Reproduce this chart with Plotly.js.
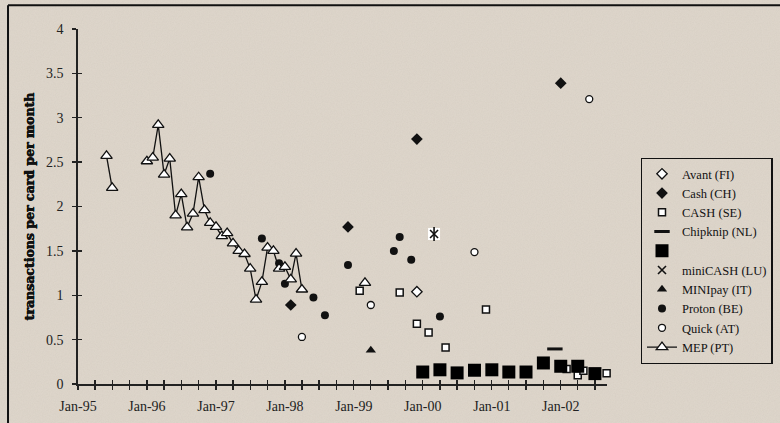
<!DOCTYPE html>
<html>
<head>
<meta charset="utf-8">
<script src="https://cdn.plot.ly/plotly-3.0.1.min.js"></script>
<style>
  html, body { margin:0; padding:0; }
  body {
    width:780px; height:423px; overflow:hidden;
    background-color:#ddd5ca;
    background-image:url("data:image/svg+xml;utf8,<svg xmlns='http://www.w3.org/2000/svg' width='260' height='260'><filter id='n'><feTurbulence type='fractalNoise' baseFrequency='0.85' numOctaves='2' stitchTiles='stitch'/><feColorMatrix type='matrix' values='0 0 0 0 0.55  0 0 0 0 0.5  0 0 0 0 0.44  0 0 0 0.9 -0.25'/></filter><rect width='100%' height='100%' filter='url(%23n)' opacity='0.35'/></svg>");
  }
  #chart { width:780px; height:423px; }
</style>
</head>
<body>
<div id="chart"></div>
<script>
// ---- data ----
const avantDates = ['1999-12-01'];
const avantVals  = [1.04];

const cashChDates = ['1998-02-01','1998-12-01','1999-12-01','2002-01-01'];
const cashChVals  = [0.89, 1.77, 2.76, 3.39];

const cashSeDates = ['1999-02-01','1999-09-01','1999-12-01','2000-02-01','2000-05-01','2000-12-01','2002-02-01','2002-04-01','2002-05-01','2002-09-01'];
const cashSeVals  = [1.05, 1.03, 0.68, 0.58, 0.41, 0.84, 0.17, 0.10, 0.15, 0.12];

const chipknipDates = ['2001-12-01'];
const chipknipVals  = [0.395];

const unnamedDates = ['2000-01-01','2000-04-01','2000-07-01','2000-10-01','2001-01-01','2001-04-01','2001-07-01','2001-10-01','2002-01-01','2002-04-01','2002-07-01'];
const unnamedVals  = [0.135, 0.16, 0.125, 0.155, 0.16, 0.135, 0.135, 0.237, 0.20, 0.20, 0.117];

const miniCashDates = ['2000-03-01'];
const miniCashVals  = [1.69];

const miniPayDates = ['1999-04-01'];
const miniPayVals  = [0.38];

const protonDates = ['1996-12-01','1997-09-01','1997-12-01','1998-01-01','1998-06-01','1998-08-01','1998-12-01','1999-08-01','1999-09-01','1999-11-01','2000-04-01'];
const protonVals  = [2.37, 1.64, 1.36, 1.13, 0.975, 0.775, 1.34, 1.50, 1.655, 1.40, 0.76];

const quickDates = ['1998-04-01','1999-04-01','2000-10-01','2002-06-01'];
const quickVals  = [0.53, 0.89, 1.486, 3.21];

const mepDates = ['1995-06-01','1995-07-01','1995-10-01',
  '1996-01-01','1996-02-01','1996-03-01','1996-04-01','1996-05-01','1996-06-01','1996-07-01','1996-08-01','1996-09-01','1996-10-01','1996-11-01','1996-12-01',
  '1997-01-01','1997-02-01','1997-03-01','1997-04-01','1997-05-01','1997-06-01','1997-07-01','1997-08-01','1997-09-01','1997-10-01','1997-11-01','1997-12-01',
  '1998-01-01','1998-02-01','1998-03-01','1998-04-01','1998-09-01','1999-03-01'];
const mepVals  = [2.57, 2.21, null,
  2.51, 2.55, 2.92, 2.36, 2.54, 1.90, 2.14, 1.765, 1.92, 2.33, 1.96, 1.815,
  1.77, 1.667, 1.70, 1.585, 1.50, 1.465, 1.30, 0.95, 1.15, 1.537, 1.50, 1.30,
  1.32, 1.18, 1.47, 1.065, null, 1.14];

const yTickVals = [0, 0.5, 1, 1.5, 2, 2.5, 3, 3.5, 4];
const yTickText = ['0','0.5','1','1.5','2','2.5','3','3.5','4'];
const xTitle = '';
const yTitle = 'transactions per card per month';

// ---- traces ----
const ink = '#111';
function pts(name, x, y, marker, extra) {
  return Object.assign({type:'scatter', mode:'markers', name:name, x:x, y:y,
    marker:marker, hoverinfo:'skip', cliponaxis:false}, extra || {});
}
// miniCASH drawn on the overlay axes (identical ranges); those axes carry the inner half of the cross ticks
const ov = {xaxis:'x2', yaxis:'y2'};
const traces = [
  pts('Avant (FI)', avantDates, avantVals, {symbol:'diamond', size:8, color:'#fff', line:{color:ink, width:1.3}}),
  pts('Cash (CH)', cashChDates, cashChVals, {symbol:'diamond', size:9, color:ink, line:{color:ink, width:0}}),
  pts('CASH (SE)', cashSeDates, cashSeVals, {symbol:'square', size:7, color:'#fff', line:{color:ink, width:1.5}}),
  pts('Chipknip (NL)', chipknipDates, chipknipVals, {symbol:'line-ew-open', size:11, color:ink, line:{color:ink, width:3}}),
  pts('', unnamedDates, unnamedVals, {symbol:'square', size:13, color:'#000', line:{color:'#000', width:0}}),
  pts('miniCASH bg', miniCashDates, miniCashVals, {symbol:'square', size:12, color:'#fff', line:{width:0}}, Object.assign({showlegend:false}, ov)),
  pts('miniCASH (LU)', miniCashDates, miniCashVals, {symbol:'x-thin-open', size:8, color:ink, line:{color:ink, width:1.6}}, ov),
  pts('miniCASH v', miniCashDates, miniCashVals, {symbol:'line-ns-open', size:10, color:ink, line:{color:ink, width:1.6}}, Object.assign({showlegend:false}, ov)),
  pts('MINIpay (IT)', miniPayDates, miniPayVals, {symbol:'triangle-up', size:9, color:ink, line:{width:0}}),
  pts('Proton (BE)', protonDates, protonVals, {symbol:'circle', size:8, color:ink, line:{width:0}}),
  pts('Quick (AT)', quickDates, quickVals, {symbol:'circle', size:7, color:'#fff', line:{color:ink, width:1.3}}),
  {type:'scatter', mode:'lines+markers', name:'MEP (PT)', x:mepDates, y:mepVals, connectgaps:false,
   line:{color:ink, width:1.3}, marker:{symbol:'triangle-up', size:10, color:'#fff', line:{color:ink, width:1.3}},
   hoverinfo:'skip', cliponaxis:false}
];

const serif = 'Liberation Serif, Times New Roman, Tinos, serif';
const axisFont = {family:serif, size:14, color:'#222'};
const xRange = ['1995-01-01','2002-09-03'];
const yRange = [0, 4];

const layout = {
  width:780, height:423,
  margin:{l:78, r:173, t:29, b:39, autoexpand:false},
  paper_bgcolor:'rgba(0,0,0,0)', plot_bgcolor:'rgba(0,0,0,0)',
  showlegend:true,
  xaxis:{type:'date', range:xRange, tick0:'1995-01-01', dtick:'M12', tickformat:'%b-%y',
    ticks:'outside', ticklen:4, tickwidth:1.3, tickcolor:'#222',
    minor:{dtick:'M3', tick0:'1995-01-01', ticks:'outside', ticklen:4, tickwidth:1.3, tickcolor:'#222'},
    showline:true, linecolor:'#222', linewidth:1.6, showgrid:false, zeroline:false,
    tickfont:axisFont, ticklabelstandoff:5, title:{text:xTitle}},
  yaxis:{range:yRange, tickvals:yTickVals, ticktext:yTickText,
    ticks:'outside', ticklen:4, tickwidth:1.3, tickcolor:'#222',
    showline:true, linecolor:'#222', linewidth:1.6, showgrid:false, zeroline:false,
    tickfont:axisFont, ticklabelstandoff:6,
    title:{text:yTitle, standoff:9, font:{family:'DejaVu Serif, serif', size:12.5, weight:'bold', color:'#111',
      shadow:'0.5px 0 0 #111, -0.3px 0 0 #111'}}},
  xaxis2:{type:'date', range:xRange, overlaying:'x', anchor:'y2', tick0:'1995-01-01', dtick:'M3',
    ticks:'inside', ticklen:4, tickwidth:1.3, tickcolor:'#222', showticklabels:false,
    showline:false, showgrid:false, zeroline:false},
  yaxis2:{range:yRange, overlaying:'y', anchor:'x2', tickvals:yTickVals,
    ticks:'inside', ticklen:4, tickwidth:1.3, tickcolor:'#222', showticklabels:false,
    showline:false, showgrid:false, zeroline:false},
  legend:{x:1.0637, y:0.637, xanchor:'left', yanchor:'top',
    bgcolor:'rgba(0,0,0,0)', bordercolor:'#111', borderwidth:1.3,
    font:{family:serif, size:12.5, color:'#111'},
    tracegroupgap:0},
  shapes:[
    {type:'line', xref:'paper', yref:'paper', x0:-0.1323, x1:-0.1323, y0:-0.2, y1:1.0666, line:{color:'#111', width:2}},
    {type:'line', xref:'paper', yref:'paper', x0:-0.1323, x1:1.5, y0:1.0666, y1:1.0666, line:{color:'#111', width:2}}
  ]
};

Plotly.newPlot('chart', traces, layout, {staticPlot:true, displayModeBar:false});
</script>
</body>
</html>
